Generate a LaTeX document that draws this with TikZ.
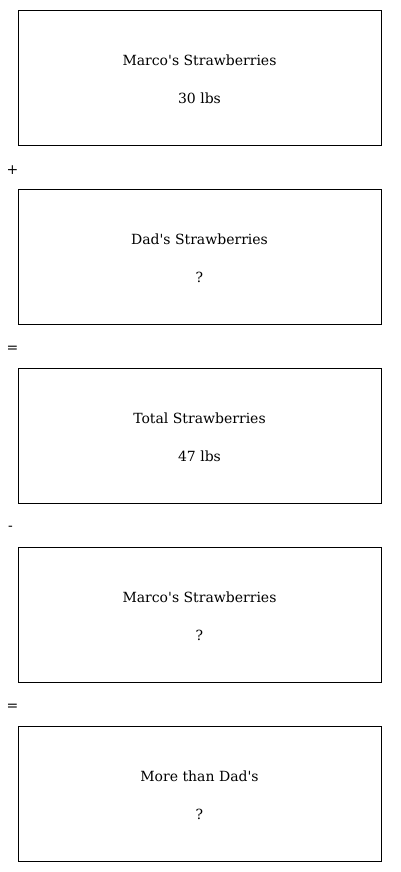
\documentclass[tikz,border=0pt]{standalone}
\usepackage{fontspec}
\setmainfont{DejaVu Serif}
\begin{document}
\begin{tikzpicture}[x=1bp,y=-1bp,
  box/.style={draw=black, line width=0.8bp, minimum width=363bp, minimum height=135bp, inner sep=0pt, anchor=north west},
  txt/.style={font=\fontsize{14bp}{16bp}\selectfont, inner sep=0pt},
  op/.style={font=\fontsize{14bp}{16bp}\selectfont, inner sep=0pt}]
\useasboundingbox (0,0) rectangle (400,872);
\node[box] (b1) at (17.7,9.7) {};
\node[box] (b2) at (17.7,188.7) {};
\node[box] (b3) at (17.7,367.7) {};
\node[box] (b4) at (17.7,546.7) {};
\node[box] (b5) at (17.7,725.7) {};
\node[txt] (t1a) at (199.5,60) {Marco\textquotesingle s Strawberries};
\node[txt] (t1b) at (199.5,98) {30 lbs};
\node[txt] (t2a) at (199.5,239) {Dad\textquotesingle s Strawberries};
\node[txt] (t2b) at (199.5,277) {?};
\node[txt] (t3a) at (199.5,418) {Total Strawberries};
\node[txt] (t3b) at (199.5,456) {47 lbs};
\node[txt] (t4a) at (199.5,597) {Marco\textquotesingle s Strawberries};
\node[txt] (t4b) at (199.5,635) {?};
\node[txt] (t5a) at (199.5,776) {More than Dad\textquotesingle s};
\node[txt] (t5b) at (199.5,814) {?};
\node[op] (o1) at (12.5,170) {+};
\node[op] (o2) at (12.5,349) {=};
\node[op] (o3) at (10.5,528) {-};
\node[op] (o4) at (12.5,707) {=};
\end{tikzpicture}
\end{document}
